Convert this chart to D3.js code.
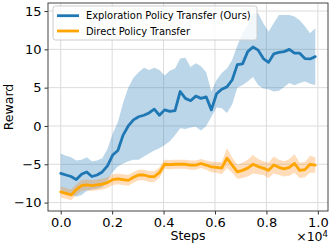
<!DOCTYPE html>
<html>
<head>
<meta charset="utf-8">
<script src="https://cdn.jsdelivr.net/npm/d3@7"></script>
<style>
  body { margin: 0; background: #fff; }
  svg { display: block; font-family: "DejaVu Sans", sans-serif; }
</style>
</head>
<body>
<svg id="chart" width="332" height="245"></svg>
<script>
// training steps (x axis, shown as x10^4)
const steps = [0, 202, 404, 606, 808, 1010, 1212, 1414, 1616, 1818,
    2020, 2222, 2425, 2627, 2829, 3031, 3233, 3435, 3637, 3839,
    4041, 4243, 4445, 4647, 4849, 5051, 5253, 5455, 5657, 5859,
    6061, 6263, 6465, 6667, 6869, 7071, 7273, 7476, 7678, 7880,
    8082, 8284, 8486, 8688, 8890, 9092, 9294, 9496, 9698, 9900];

// Exploration Policy Transfer (Ours)
const exploreMean = [-6.2, -6.4, -6.6, -7.0, -6.3, -6.0, -6.6, -6.4, -6.0, -5.2,
    -3.8, -3.2, -1.2, 0.0, 0.8, 1.2, 1.4, 1.7, 2.2, 1.4,
    2.1, 1.9, 2.0, 4.5, 3.6, 3.3, 3.9, 3.6, 3.8, 2.1,
    4.2, 4.8, 5.1, 6.0, 8.0, 8.1, 9.7, 10.3, 9.9, 8.8,
    8.3, 9.4, 9.6, 9.7, 10.0, 9.5, 9.5, 8.8, 8.75, 9.05];
const exploreUpper = [-3.6, -3.9, -4.1, -4.5, -4.4, -4.1, -4.6, -4.5, -4.2, -3.0,
    -1.0, 0.5, 3.0, 5.0, 6.3, 7.0, 7.6, 7.3, 7.6, 7.3,
    6.6, 7.2, 7.5, 8.8, 8.9, 7.7, 8.2, 7.8, 7.0, 4.5,
    6.0, 6.9, 7.5, 8.6, 10.5, 12.1, 13.2, 14.7, 14.7, 13.4,
    12.3, 13.4, 14.5, 14.5, 14.5, 14.3, 13.8, 13.0, 12.1, 12.75];
const exploreLower = [-8.3, -8.8, -9.0, -9.2, -9.0, -8.5, -8.3, -8.2, -8.0, -7.2,
    -6.0, -5.3, -4.9, -4.6, -4.4, -4.4, -4.0, -3.6, -3.2, -2.9,
    -2.5, -2.0, -1.2, -0.3, -0.4, -0.2, -0.1, -0.6, 0.0, 1.2,
    2.4, 2.3, 1.7, 2.8, 5.0, 5.35, 5.8, 6.4, 5.35, 4.9,
    4.8, 4.5, 4.6, 5.1, 5.6, 5.3, 5.6, 5.8, 5.5, 5.35];

// Direct Policy Transfer
const directMean = [-8.6, -8.8, -9.0, -8.3, -7.8, -7.7, -7.8, -7.7, -7.6, -7.4,
    -7.0, -6.9, -7.0, -7.1, -6.7, -6.4, -6.4, -6.6, -6.6, -6.1,
    -5.0, -5.05, -5.0, -5.0, -5.0, -5.1, -5.1, -4.9, -5.1, -5.35,
    -5.4, -5.5, -4.2, -5.1, -6.0, -5.8, -5.5, -5.0, -5.3, -5.5,
    -5.8, -5.1, -5.4, -5.6, -5.4, -4.9, -5.8, -5.7, -5.0, -5.1];
const directStd = [0.7, 0.7, 0.7, 0.7, 0.7, 0.7, 0.7, 0.7, 0.7, 0.7,
    0.7, 0.7, 0.7, 0.7, 0.7, 0.7, 0.7, 0.7, 0.7, 0.7,
    0.6, 0.6, 0.6, 0.6, 0.6, 0.6, 0.6, 0.6, 0.6, 0.7,
    0.7, 0.8, 1.3, 1.0, 0.9, 1.0, 1.1, 1.2, 1.0, 0.9,
    1.0, 1.1, 1.0, 1.0, 1.1, 1.2, 1.0, 1.0, 1.1, 1.0];

const xTicks = [0, 2000, 4000, 6000, 8000, 10000];
const yTicks = [-10, -5, 0, 5, 10, 15];

const seriesNames = ["Exploration Policy Transfer (Ours)", "Direct Policy Transfer"];
const lineColors = ["#1f77b4", "#ffa500"];
const bandColors = ["#1f77b4", "#ff8c1a"];

const svg = d3.select("#chart");
const margin = {top: 3, right: 4, bottom: 34, left: 48};
const width = +svg.attr("width") - margin.left - margin.right;
const height = +svg.attr("height") - margin.top - margin.bottom;

const x = d3.scaleLinear().domain([-495, 10395]).range([0, width]);
const y = d3.scaleLinear().domain([-11.1, 16.05]).range([height, 0]);

const g = svg.append("g").attr("transform", "translate(" + margin.left + "," + margin.top + ")");

g.append("clipPath").attr("id", "clip")
    .append("rect").attr("width", width).attr("height", height);

// grid
g.append("g")
    .selectAll("line.vx").data(xTicks).join("line")
    .attr("x1", d => x(d)).attr("x2", d => x(d))
    .attr("y1", 0).attr("y2", height)
    .attr("stroke", "#dcdcdc").attr("stroke-width", 1);
g.append("g")
    .selectAll("line.hy").data(yTicks).join("line")
    .attr("x1", 0).attr("x2", width)
    .attr("y1", d => y(d)).attr("y2", d => y(d))
    .attr("stroke", "#dcdcdc").attr("stroke-width", 1);

const plot = g.append("g").attr("clip-path", "url(#clip)");

const area = d3.area()
    .x((d, i) => x(steps[i]))
    .y0(d => y(d[0]))
    .y1(d => y(d[1]));
const line = d3.line()
    .x((d, i) => x(steps[i]))
    .y(d => y(d));

const exploreBand = exploreMean.map((d, i) => [exploreLower[i], exploreUpper[i]]);
const directBand = directMean.map((d, i) => [d - directStd[i], d + directStd[i]]);

plot.append("path").datum(exploreBand)
    .attr("d", area).attr("fill", bandColors[0]).attr("fill-opacity", 0.3);
plot.append("path").datum(directBand)
    .attr("d", area).attr("fill", bandColors[1]).attr("fill-opacity", 0.3);

plot.append("path").datum(exploreMean)
    .attr("d", line).attr("fill", "none")
    .attr("stroke", lineColors[0]).attr("stroke-width", 2.8)
    .attr("stroke-linejoin", "round").attr("stroke-linecap", "round");
plot.append("path").datum(directMean)
    .attr("d", line).attr("fill", "none")
    .attr("stroke", lineColors[1]).attr("stroke-width", 2.8)
    .attr("stroke-linejoin", "round").attr("stroke-linecap", "round");

// axes
const fmtY = d => (d < 0 ? "\u2212" + Math.abs(d) : "" + d);
const xAxis = g.append("g")
    .attr("transform", "translate(0," + height + ")")
    .call(d3.axisBottom(x).tickValues(xTicks).tickSize(3.5).tickPadding(3)
        .tickFormat(d => (d / 10000).toFixed(1)));
const yAxis = g.append("g")
    .call(d3.axisLeft(y).tickValues(yTicks).tickSize(3.5).tickPadding(3).tickFormat(fmtY));

[xAxis, yAxis].forEach(a => {
    a.select(".domain").remove();
    a.selectAll("text").attr("font-size", 13).attr("fill", "#000")
        .attr("font-family", "DejaVu Sans, sans-serif");
    a.selectAll("line").attr("stroke", "#333");
});

// frame
g.append("rect")
    .attr("width", width).attr("height", height)
    .attr("fill", "none").attr("stroke", "#444").attr("stroke-width", 1);

// labels
svg.append("text")
    .attr("x", margin.left + width / 2).attr("y", 240)
    .attr("text-anchor", "middle").attr("font-size", 12.5)
    .text("Steps");
svg.append("text")
    .attr("transform", "translate(13," + (margin.top + height / 2) + ") rotate(-90)")
    .attr("text-anchor", "middle").attr("font-size", 12.5)
    .text("Reward");
const offset = svg.append("text")
    .attr("x", 328).attr("y", 241)
    .attr("text-anchor", "end").attr("font-size", 12.5);
offset.append("tspan").text("\u00d710");
offset.append("tspan").attr("dy", -4.5).attr("font-size", 8.5).text("4");

// legend
const legend = svg.append("g").attr("transform", "translate(53,6)");
legend.append("rect")
    .attr("width", 204).attr("height", 34).attr("rx", 2.5)
    .attr("fill", "#fff").attr("fill-opacity", 0.8)
    .attr("stroke", "#ccc").attr("stroke-width", 1);
const items = legend.selectAll("g.item").data(seriesNames).join("g")
    .attr("transform", (d, i) => "translate(0," + (9.7 + i * 15.3) + ")");
items.append("line")
    .attr("x1", 4).attr("x2", 26)
    .attr("stroke", (d, i) => lineColors[i]).attr("stroke-width", 2.8);
items.append("text")
    .attr("x", 33).attr("y", 3.7).attr("font-size", 9.9)
    .text(d => d);
</script>
</body>
</html>
